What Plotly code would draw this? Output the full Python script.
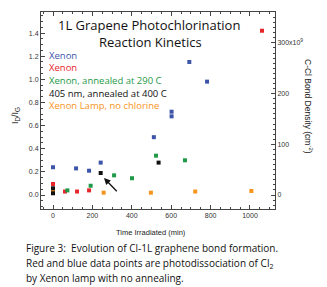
import plotly.graph_objects as go

# ---- data ----
blue_t = [0, 117, 183, 242, 512, 602, 602, 692, 782]
blue_v = [0.24, 0.23, 0.21, 0.28, 0.50, 0.72, 0.68, 1.15, 0.98]
red_t = [0, 61, 122, 183, 1061]
red_v = [0.095, 0.03, 0.03, 0.04, 1.42]
green_t = [73, 191, 310, 401, 523, 670]
green_v = [0.04, 0.08, 0.17, 0.145, 0.34, 0.30]
black_t = [0, 0, 242, 536]
black_v = [0.058, 0.015, 0.19, 0.28]
orange_t = [0, 257, 497, 722, 1007]
orange_v = [0.037, 0.02, 0.02, 0.03, 0.035]

x_ticks = [0, 200, 400, 600, 800, 1000]
y_ticks = [0.0, 0.2, 0.4, 0.6, 0.8, 1.0, 1.2, 1.4]
y2_ticks = [0, 100, 200, 300]
y2_labels = ["0", "100", "200", "300x10<sup>9</sup>"]

legend_items = [
    ("Xenon", "#3d55a8"),
    ("Xenon", "#e5262b"),
    ("Xenon, annealed at 290 C", "#1f9a48"),
    ("405 nm, annealed at 400 C", "#111111"),
    ("Xenon Lamp, no chlorine", "#f7941d"),
]

caption = [
    "Figure 3:  Evolution of Cl-1L graphene bond formation.",
    "Red and blue data points are photodissociation of Cl<sub>2</sub>",
    "by Xenon lamp with no annealing.",
]

W, H = 327, 287
L, R, T, B = 41, 52, 12, 78
PW, PH = W - L - R, H - T - B

def px(x):
    return (x - L) / PW

def py(y):
    return (H - B - y) / PH

fig = go.Figure()
series = [
    (blue_t, blue_v, "#3d55a8"),
    (red_t, red_v, "#e5262b"),
    (green_t, green_v, "#1f9a48"),
    (orange_t, orange_v, "#f7941d"),
    (black_t, black_v, "#111111"),
]
for t, v, c in series:
    fig.add_trace(go.Scatter(x=t, y=v, mode="markers",
                             marker=dict(symbol="square", size=4, color=c),
                             showlegend=False, hoverinfo="skip"))
fig.add_trace(go.Scatter(x=[], y=[], yaxis="y2", showlegend=False))

tickfont = dict(family="Liberation Sans, Arial", size=7, color="#333")
axline = dict(showline=True, linecolor="#444", linewidth=1, showgrid=False,
              zeroline=False, ticks="inside", ticklen=4, tickcolor="#444",
              tickfont=tickfont)

fig.update_layout(
    width=W, height=H,
    margin=dict(l=L, r=R, t=T, b=B, pad=0),
    paper_bgcolor="white", plot_bgcolor="white",
    xaxis=dict(range=[-61, 1127], tickvals=x_ticks, mirror="ticks",
               minor=dict(dtick=50, ticks="inside", ticklen=2, tickcolor="#444"),
               **axline),
    yaxis=dict(range=[-0.121, 1.582], tickvals=y_ticks, tickformat=".1f",
               minor=dict(dtick=0.05, ticks="inside", ticklen=2, tickcolor="#444"),
               **axline),
    yaxis2=dict(range=[-27.6, 361], overlaying="y", side="right",
                tickvals=y2_ticks, ticktext=y2_labels,
                minor=dict(dtick=10, ticks="inside", ticklen=2, tickcolor="#444"),
                **axline),
)

ann = []
# title
ann.append(dict(x=px(149), y=py(25), xref="paper", yref="paper",
                text="1L Grapene Photochlorination", showarrow=False,
                font=dict(family="Open Sans", size=13, color="#111"),
                xanchor="center", yanchor="middle"))
ann.append(dict(x=px(150), y=py(42), xref="paper", yref="paper",
                text="Reaction Kinetics", showarrow=False,
                font=dict(family="Open Sans", size=13, color="#111"),
                xanchor="center", yanchor="middle"))
# legend text
for i, (txt, col) in enumerate(legend_items):
    ann.append(dict(x=px(47), y=py(55 + i * 12.7), xref="paper", yref="paper",
                    text=txt, showarrow=False,
                    font=dict(family="Open Sans", size=9.5, color=col),
                    xanchor="left", yanchor="middle"))
# axis titles
ann.append(dict(x=px(15), y=py(116), xref="paper", yref="paper",
                text="I<sub>D</sub>/I<sub>G</sub>", showarrow=False, textangle=-90,
                font=dict(family="Liberation Sans, Arial", size=9, color="#222"),
                xanchor="center", yanchor="middle"))
ann.append(dict(x=px(309), y=py(106), xref="paper", yref="paper",
                text="C-Cl Bond Density (cm<sup>-2</sup>)", showarrow=False, textangle=90,
                font=dict(family="Liberation Sans, Arial", size=8.5, color="#222"),
                xanchor="center", yanchor="middle"))
ann.append(dict(x=px(151), y=py(233), xref="paper", yref="paper",
                text="Time Irradiated (min)", showarrow=False,
                font=dict(family="Liberation Sans, Arial", size=7.5, color="#222"),
                xanchor="center", yanchor="middle"))
# caption
for i, line in enumerate(caption):
    ann.append(dict(x=px(24), y=py(248 + i * 15), xref="paper", yref="paper",
                    text=line, showarrow=False,
                    font=dict(family="Open Sans", size=10, color="#111"),
                    xanchor="left", yanchor="middle"))
# arrow
ann.append(dict(x=259, y=0.147, ax=331, ay=0.02, xref="x", yref="y",
                axref="x", ayref="y", text="", showarrow=True,
                arrowhead=2, arrowsize=1, arrowwidth=1.3, arrowcolor="#111"))
fig.update_layout(annotations=ann)

fig.write_html("out.html", config={"displayModeBar": False},
               post_script="document.body.style.margin='0';document.body.style.overflow='hidden';")
